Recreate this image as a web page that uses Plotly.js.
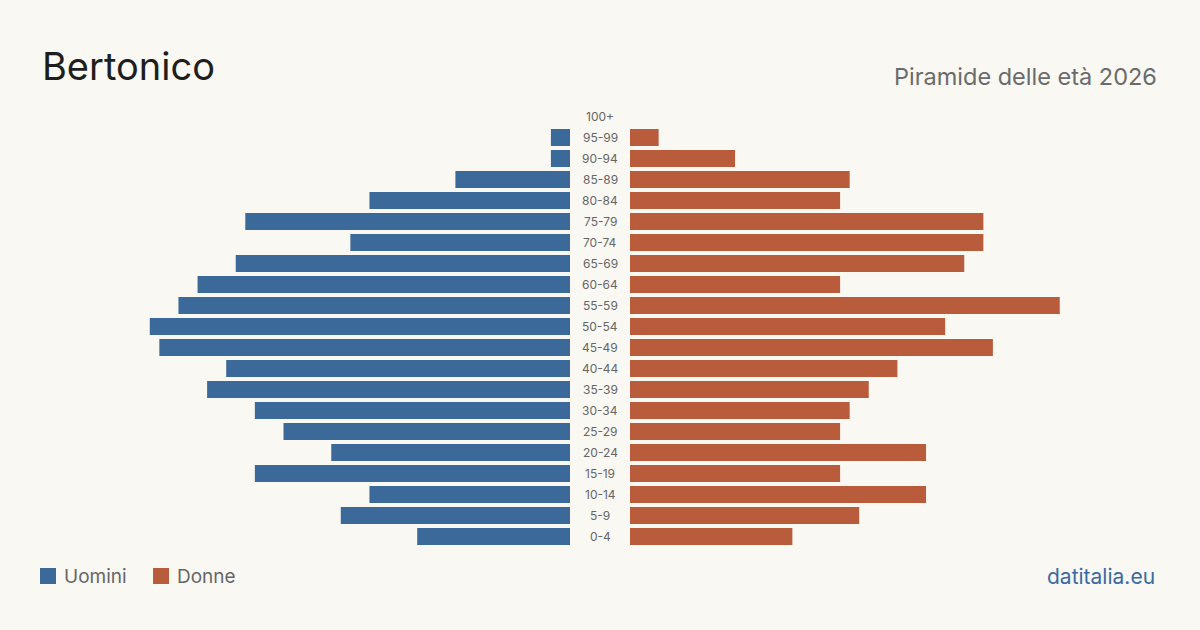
<!DOCTYPE html>
<html>
<head>
<meta charset="utf-8">
<script src="https://cdn.plot.ly/plotly-3.0.1.min.js"></script>
<style>html,body{margin:0;padding:0;background:#f9f8f3;}#chart{width:1200px;height:630px;}</style>
</head>
<body>
<div id="chart"></div>
<script>
const ageGroups = ["0-4","5-9","10-14","15-19","20-24","25-29","30-34","35-39","40-44","45-49","50-54","55-59","60-64","65-69","70-74","75-79","80-84","85-89","90-94","95-99","100+"];
const men   = [16,24,21,33,25,30,33,38,36,43,44,41,39,35,23,34,21,12,2,2,0];
const women = [17,24,31,22,31,22,23,25,28,38,33,45,22,35,37,37,22,23,11,3,0];
const seriesNames = ["Uomini","Donne"];
const colors = ["#3b6a9a","#b95c3b"];

const H = 630, W = 1200;
const py = v => 1 - v / H;   // pixel y -> paper
const px = v => v / W;

const R = 470 / 9.55;

const traces = [
  {type:"bar", orientation:"h", y: ageGroups, x: men, xaxis:"x", yaxis:"y",
   marker:{color:colors[0]}, name:seriesNames[0], hoverinfo:"x+y"},
  {type:"bar", orientation:"h", y: ageGroups, x: women, xaxis:"x2", yaxis:"y2",
   marker:{color:colors[1]}, name:seriesNames[1], hoverinfo:"x+y"}
];

const font = "Inter, 'Noto Sans', sans-serif";
const annotations = ageGroups.map(a => ({
  xref:"paper", yref:"y", x:0.5, y:a, text:a, showarrow:false,
  xanchor:"center", yanchor:"middle", font:{family:font, size:12, color:"#666"}
}));
annotations.push(
  {xref:"paper", yref:"paper", x:px(40), y:py(66), text:"Bertonico", showarrow:false,
   xanchor:"left", yanchor:"middle", font:{family:font, size:38, color:"#1e1e1e"}},
  {xref:"paper", yref:"paper", x:px(1159), y:py(76), text:"Piramide delle età 2026", showarrow:false,
   xanchor:"right", yanchor:"middle", font:{family:font, size:23.5, color:"#6b6b6b"}},
  {xref:"paper", yref:"paper", x:px(1157), y:py(576), text:"datitalia.eu", showarrow:false,
   xanchor:"right", yanchor:"middle", font:{family:font, size:21, color:"#3a6a9e"}},
  {xref:"paper", yref:"paper", x:px(62), y:py(576), text:seriesNames[0], showarrow:false,
   xanchor:"left", yanchor:"middle", font:{family:font, size:19, color:"#666"}},
  {xref:"paper", yref:"paper", x:px(175), y:py(576), text:seriesNames[1], showarrow:false,
   xanchor:"left", yanchor:"middle", font:{family:font, size:19, color:"#666"}}
);
const shapes = [
  {type:"rect", xref:"paper", yref:"paper", x0:px(40), x1:px(56), y0:py(584), y1:py(568), fillcolor:colors[0], line:{width:0}},
  {type:"rect", xref:"paper", yref:"paper", x0:px(153), x1:px(169), y0:py(584), y1:py(568), fillcolor:colors[1], line:{width:0}}
];

const yBottom = py(547), yTop = py(106);
const layout = {
  width:W, height:H, margin:{l:0,r:0,t:0,b:0},
  paper_bgcolor:"#f9f8f3", plot_bgcolor:"#f9f8f3",
  showlegend:false, bargap:0.19,
  xaxis:{domain:[px(100), px(570)], range:[R,0], visible:false, fixedrange:true},
  xaxis2:{domain:[px(630), px(1100)], range:[0,R], visible:false, fixedrange:true},
  yaxis:{domain:[yBottom,yTop], type:"category", categoryorder:"array", categoryarray:ageGroups, visible:false, anchor:"x"},
  yaxis2:{domain:[yBottom,yTop], type:"category", categoryorder:"array", categoryarray:ageGroups, visible:false, anchor:"x2", matches:"y"},
  annotations, shapes
};
Plotly.newPlot("chart", traces, layout, {staticPlot:true, displayModeBar:false});
</script>
</body>
</html>
